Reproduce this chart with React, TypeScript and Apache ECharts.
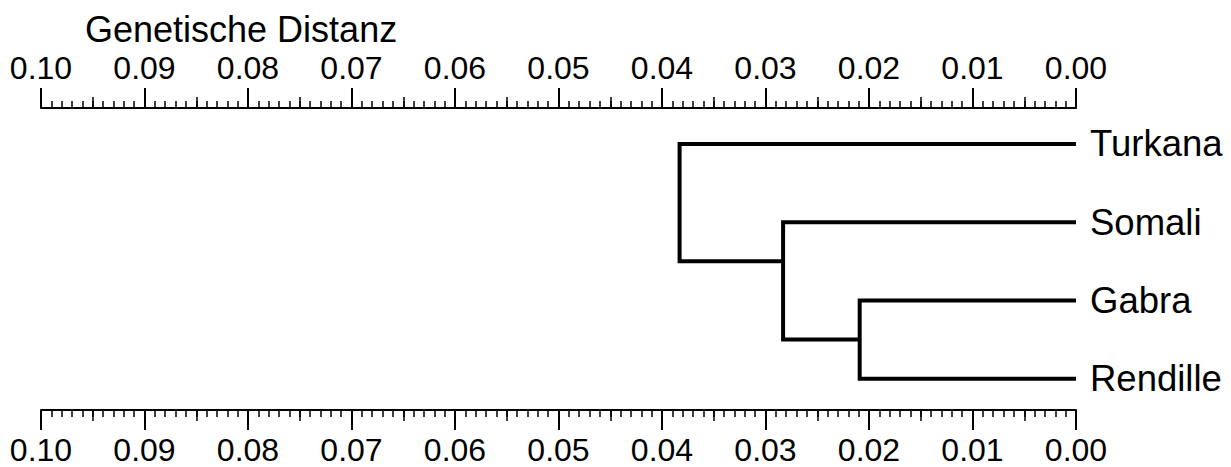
import React, { useEffect, useRef } from "react";
import * as echarts from "echarts";

const leaves = ["Turkana", "Somali", "Gabra", "Rendille"];
const leafRow = [0, 1, 2, 3];
// merges: left child, right child, merge height (genetic distance), row where its stem attaches
const mergeLeft = ["Gabra", "Somali", "Turkana"];
const mergeRight = ["Rendille", "m0", "m1"];
const mergeHeight = [0.0209, 0.0283, 0.0383];
const mergeRow = [2.5, 1.5, 0.75];
const tickValues = [0, 0.01, 0.02, 0.03, 0.04, 0.05, 0.06, 0.07, 0.08, 0.09, 0.1];

const FONT = "'Liberation Sans', Arial, Helvetica, sans-serif";

function childPos(c: string): [number, number] {
  if (c.startsWith("m")) {
    const i = Number(c.slice(1));
    return [mergeHeight[i], mergeRow[i]];
  }
  const li = leaves.indexOf(c);
  return [0, leafRow[li]];
}

export default function App() {
  const ref = useRef<HTMLDivElement>(null);
  useEffect(() => {
    document.body.style.margin = "0";
    if (!ref.current) return;
    const chart = echarts.init(ref.current, null, { renderer: "svg" });

    const branchSeries = mergeLeft.map((a, i) => {
      const b = mergeRight[i];
      const [ha, ra] = childPos(a);
      const [hb, rb] = childPos(b);
      const H = mergeHeight[i];
      return {
        type: "line",
        xAxisIndex: 0,
        yAxisIndex: 0,
        data: [
          [ha, ra],
          [H, ra],
          [H, rb],
          [hb, rb],
        ],
        symbol: "none",
        silent: true,
        lineStyle: { color: "#000", width: 4, cap: "butt", join: "miter" },
      };
    });

    const majorAxis = (position: "top" | "bottom") => ({
      type: "value",
      position,
      offset: 0,
      min: 0,
      max: 0.1,
      interval: 0.01,
      inverse: true,
      axisLine: { show: true, onZero: false, lineStyle: { color: "#000", width: 2 } },
      axisTick: { show: true, length: 20, lineStyle: { color: "#000", width: 2 } },
      minorTick: { show: true, splitNumber: 10, length: 7, lineStyle: { color: "#000", width: 1.5 } },
      splitLine: { show: false },
      axisLabel: {
        show: true,
        margin: 24,
        color: "#000",
        fontFamily: FONT,
        fontSize: 32,
        formatter: (v: number) => {
          const t = tickValues.find((x) => Math.abs(x - v) < 1e-9);
          return (t !== undefined ? t : v).toFixed(2);
        },
      },
    });

    const midAxis = (position: "top" | "bottom") => ({
      type: "value",
      position,
      offset: 0,
      min: 0,
      max: 0.1,
      interval: 0.005,
      inverse: true,
      axisLine: { show: false, onZero: false },
      axisTick: { show: true, length: 11, lineStyle: { color: "#000", width: 1.5 } },
      splitLine: { show: false },
      axisLabel: { show: false },
    });

    chart.setOption({
      animation: false,
      backgroundColor: "#fff",
      title: {
        text: "Genetische Distanz",
        left: 80,
        top: 6,
        textStyle: { color: "#000", fontFamily: FONT, fontSize: 36, fontWeight: "normal" },
      },
      grid: { left: 41, right: 155, top: 108, bottom: 57, containLabel: false },
      xAxis: [majorAxis("top"), majorAxis("bottom"), midAxis("top"), midAxis("bottom")],
      yAxis: { type: "value", inverse: true, min: -0.46, max: 3.4, show: false },
      series: [
        ...branchSeries,
        {
          type: "scatter",
          xAxisIndex: 0,
          yAxisIndex: 0,
          symbolSize: 0,
          silent: true,
          itemStyle: { opacity: 1, color: "#000" },
          data: leaves.map((n, i) => ({ name: n, value: [0, leafRow[i]] })),
          label: {
            show: true,
            position: "right",
            distance: 14,
            formatter: (p: any) => p.name,
            color: "#000",
            opacity: 1,
            fontFamily: FONT,
            fontSize: 36.5,
          },
        },
      ],
    });
    return () => chart.dispose();
  }, []);
  return <div ref={ref} style={{ width: 1231, height: 467 }} />;
}
